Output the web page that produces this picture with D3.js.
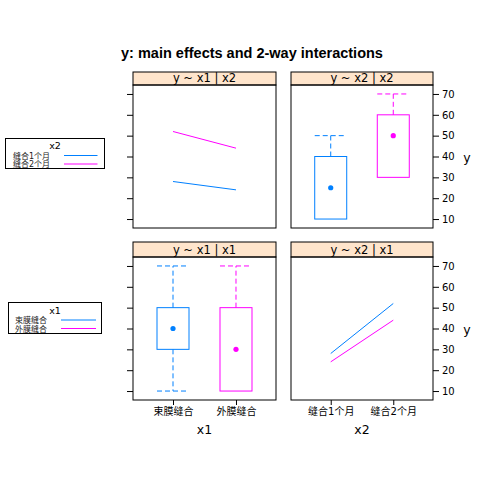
<!DOCTYPE html>
<html><head><meta charset="utf-8">
<script src="https://cdn.jsdelivr.net/npm/d3@7"></script>
<style>body{margin:0;background:#fff}svg{display:block}</style>
</head><body>
<script>
const x1Levels = ["束膜缝合", "外膜缝合"];
const x2Levels = ["缝合1个月", "缝合2个月"];
const colors = ["#0080ff", "#ff00ff"];
const yTicks = [10, 20, 30, 40, 50, 60, 70];
// interaction means: y by x1, one line per x2 level
const meanX2a = [28, 24];   // 缝合1个月 over x1 levels
const meanX2b = [52, 44];   // 缝合2个月 over x1 levels
// interaction means: y by x2, one line per x1 level
const meanX1a = [28, 52];   // 束膜缝合 over x2 levels
const meanX1b = [24, 44];   // 外膜缝合 over x2 levels
// box stats [min, q1, median, q3, max]
const boxX1 = [[10, 30, 40, 50, 70], [10, 10, 30, 50, 70]];
const boxX2 = [[10, 10, 25, 40, 50], [30, 30, 50, 60, 70]];

const W = 504, H = 504;
const svg = d3.select("body").append("svg").attr("width", W).attr("height", H);
const AX = "'DejaVu Sans','Noto Sans CJK SC',sans-serif";

svg.append("text").attr("x", 252).attr("y", 58).attr("text-anchor", "middle")
  .attr("font-family", "'Liberation Sans',Arial,sans-serif").attr("font-weight", "bold")
  .attr("font-size", 14.5).text("y: main effects and 2-way interactions");

const cols = [[133, 276], [291, 433]];
const rows = [{strip: 72, top: 85, bottom: 228}, {strip: 242, top: 257, bottom: 400}];

function panel(ci, ri, title, levels, drawFn, rightAxis, bottomAxis, xTitle) {
  const [x0, x1] = cols[ci];
  const r = rows[ri];
  const x = d3.scaleLinear().domain([0.365, 2.635]).range([x0, x1]);
  const y = d3.scaleLinear().domain([5.7, 74.3]).range([r.bottom, r.top]);
  const g = svg.append("g");
  // strip
  g.append("rect").attr("x", x0).attr("y", r.strip).attr("width", x1 - x0).attr("height", r.top - r.strip)
    .attr("fill", "#ffe5cc").attr("stroke", "#000").attr("stroke-width", 1);
  g.append("text").attr("x", (x0 + x1) / 2).attr("y", r.top - 3).attr("text-anchor", "middle")
    .attr("font-family", AX).attr("font-size", 11.5).text(title);
  drawFn(g, x, y);
  g.append("rect").attr("x", x0).attr("y", r.top).attr("width", x1 - x0).attr("height", r.bottom - r.top)
    .attr("fill", "none").attr("stroke", "#000").attr("stroke-width", 1);
  // y axis
  if (!rightAxis) {
    const ax = d3.axisLeft(y).tickValues(yTicks).tickSize(6).tickFormat("");
    const a = g.append("g").attr("transform", `translate(${x0},0)`).call(ax);
    a.select(".domain").remove();
  } else {
    const ax = d3.axisRight(y).tickValues(yTicks).tickSize(6).tickPadding(3);
    const a = g.append("g").attr("transform", `translate(${x1},0)`).call(ax);
    a.select(".domain").remove();
    a.selectAll("text").attr("font-family", AX).attr("font-size", 10).attr("fill", "#000");
    g.append("text").attr("x", 467).attr("y", (r.top + r.bottom) / 2 + 5).attr("text-anchor", "middle")
      .attr("font-family", AX).attr("font-size", 12.5).text("y");
  }
  if (bottomAxis) {
    const ax = d3.axisBottom(x).tickValues([1, 2]).tickSize(5).tickPadding(3).tickFormat((d, i) => levels[i]);
    const a = g.append("g").attr("transform", `translate(0,${r.bottom})`).call(ax);
    a.select(".domain").remove();
    a.selectAll("text").attr("font-family", AX).attr("font-size", 10).attr("fill", "#000");
    g.append("text").attr("x", (x0 + x1) / 2).attr("y", 434).attr("text-anchor", "middle")
      .attr("font-family", AX).attr("font-size", 12.5).text(xTitle);
  }
}

function lines(series) {
  return (g, x, y) => {
    const line = d3.line().x((d, i) => x(i + 1)).y(d => y(d));
    series.forEach((s, k) => {
      g.append("path").attr("d", line(s)).attr("fill", "none").attr("stroke", colors[k]).attr("stroke-width", 1);
    });
  };
}

function boxes(stats) {
  return (g, x, y) => {
    const hw = 16;
    stats.forEach((s, k) => {
      const cx = x(k + 1), c = colors[k];
      const [mn, q1, md, q3, mx] = s;
      g.append("rect").attr("x", cx - hw).attr("y", y(q3)).attr("width", 2 * hw).attr("height", y(q1) - y(q3))
        .attr("fill", "none").attr("stroke", c).attr("stroke-width", 1);
      if (mx > q3) {
        g.append("line").attr("x1", cx).attr("x2", cx).attr("y1", y(q3)).attr("y2", y(mx))
          .attr("stroke", c).attr("stroke-dasharray", "5,3");
        g.append("line").attr("x1", cx - hw).attr("x2", cx + hw).attr("y1", y(mx)).attr("y2", y(mx))
          .attr("stroke", c).attr("stroke-dasharray", "5,3");
      }
      if (mn < q1) {
        g.append("line").attr("x1", cx).attr("x2", cx).attr("y1", y(q1)).attr("y2", y(mn))
          .attr("stroke", c).attr("stroke-dasharray", "5,3");
        g.append("line").attr("x1", cx - hw).attr("x2", cx + hw).attr("y1", y(mn)).attr("y2", y(mn))
          .attr("stroke", c).attr("stroke-dasharray", "5,3");
      }
      g.append("circle").attr("cx", cx).attr("cy", y(md)).attr("r", 2.6).attr("fill", c);
    });
  };
}

panel(0, 0, "y ~ x1 | x2", x1Levels, lines([meanX2a, meanX2b]), false, false, "");
panel(1, 0, "y ~ x2 | x2", x2Levels, boxes(boxX2), true, false, "");
panel(0, 1, "y ~ x1 | x1", x1Levels, boxes(boxX1), false, true, "x1");
panel(1, 1, "y ~ x2 | x1", x2Levels, lines([meanX1a, meanX1b]), true, true, "x2");

function legend(bx, by, bw, bh, title, levels, textX, lineX0, lineX1, ys, titleY) {
  const g = svg.append("g");
  g.append("rect").attr("x", bx).attr("y", by).attr("width", bw).attr("height", bh)
    .attr("fill", "#fff").attr("stroke", "#000").attr("stroke-width", 1);
  g.append("text").attr("x", bx + bw / 2).attr("y", titleY).attr("text-anchor", "middle")
    .attr("font-family", AX).attr("font-size", 9.5).text(title);
  levels.forEach((l, i) => {
    g.append("text").attr("x", textX).attr("y", ys[i] + 3).attr("font-family", AX).attr("font-size", 8)
      .attr("fill", "#222").text(l);
    g.append("line").attr("x1", lineX0).attr("x2", lineX1).attr("y1", ys[i]).attr("y2", ys[i])
      .attr("stroke", colors[i]).attr("stroke-width", 1);
  });
}
legend(5.5, 138.5, 99, 30, "x2", x2Levels, 13, 64, 97.5, [155.5, 164], 148.5);
legend(8.5, 302.5, 93, 31, "x1", x1Levels, 15, 61, 96, [320, 328.5], 313.5);
</script>
</body></html>
